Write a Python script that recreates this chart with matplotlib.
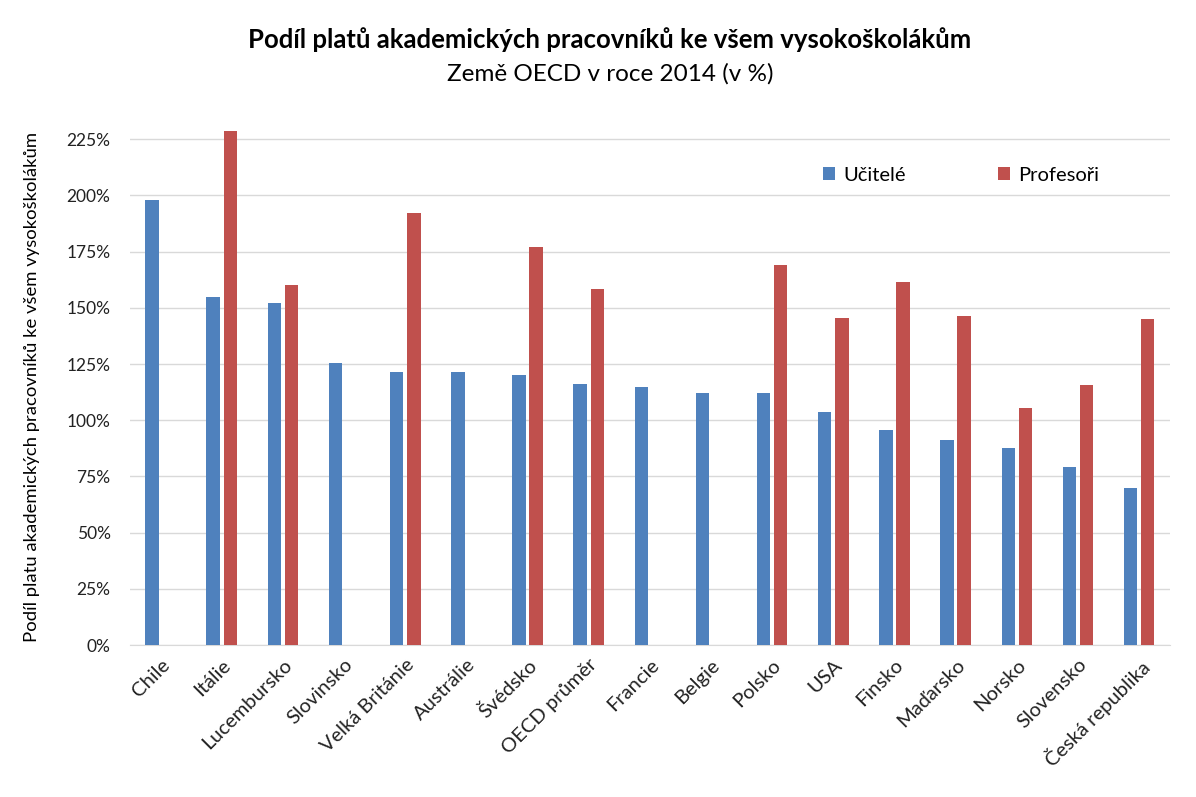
import numpy as np
import matplotlib
matplotlib.use('Agg')
import matplotlib.pyplot as plt
from matplotlib.ticker import PercentFormatter

plt.rcParams['font.family'] = ['Lato', 'DejaVu Sans']

# data (podíl v %)
zeme = ["Chile", "Itálie", "Lucembursko", "Slovinsko", "Velká Británie",
        "Austrálie", "Švédsko", "OECD průměr", "Francie", "Belgie", "Polsko",
        "USA", "Finsko", "Maďarsko", "Norsko", "Slovensko", "Česká republika"]
ucitele = [198, 155, 152, 125.5, 121.5, 121.5, 120, 116, 115, 112, 112,
           103.5, 95.5, 91, 87.5, 79, 70]
profesori = [np.nan, 228.5, 160, np.nan, 192, np.nan, 177, 158.5, np.nan,
             np.nan, 169, 145.5, 161.5, 146.5, 105.5, 115.5, 145]

modra = '#4F81BD'
cervena = '#C0504D'

fig = plt.figure(figsize=(11.96, 7.97), dpi=100)
ax = fig.add_axes([0.1087, 0.1907, 0.8693, 0.6487])

x = np.arange(len(zeme))
w = 0.22
off = 0.14
ax.bar(x - off, ucitele, w, color=modra, label='Učitelé', zorder=3)
ax.bar(x + off, profesori, w, color=cervena, label='Profesoři', zorder=3)

ax.set_xlim(-0.5, len(zeme) - 0.5)
ax.set_ylim(0, 230)
ax.set_yticks(np.arange(0, 226, 25))
ax.yaxis.set_major_formatter(PercentFormatter(decimals=0))
ax.grid(axis='y', color='#D9D9D9', linewidth=1, zorder=0)
for s in ['top', 'right', 'left']:
    ax.spines[s].set_visible(False)
ax.spines['bottom'].set_color('#D9D9D9')
ax.tick_params(length=0, labelsize=12.5, colors='#222222')
ax.tick_params(axis='y', pad=14)
ax.tick_params(axis='x', pad=8)

ax.set_xticks(x)
ax.set_xticklabels(zeme, rotation=45, ha='right', rotation_mode='anchor', fontsize=14.5)

ax.set_ylabel('Podíl platu akademických pracovníků ke všem vysokoškolákům',
              fontsize=13.3, labelpad=19)

fig.text(0.51, 0.95, 'Podíl platů akademických pracovníků ke všem vysokoškolákům',
         ha='center', va='center', fontsize=18.5, fontweight='bold')
fig.text(0.51, 0.908, 'Země OECD v roce 2014 (v %)', ha='center', va='center', fontsize=17.5)

ax.legend(loc='upper left', bbox_to_anchor=(0.649, 0.96), ncol=2, frameon=False,
          fontsize=14.5, handlelength=0.6, handleheight=0.6, columnspacing=4.6,
          handletextpad=0.4)

fig.savefig('out.png', dpi=100)
